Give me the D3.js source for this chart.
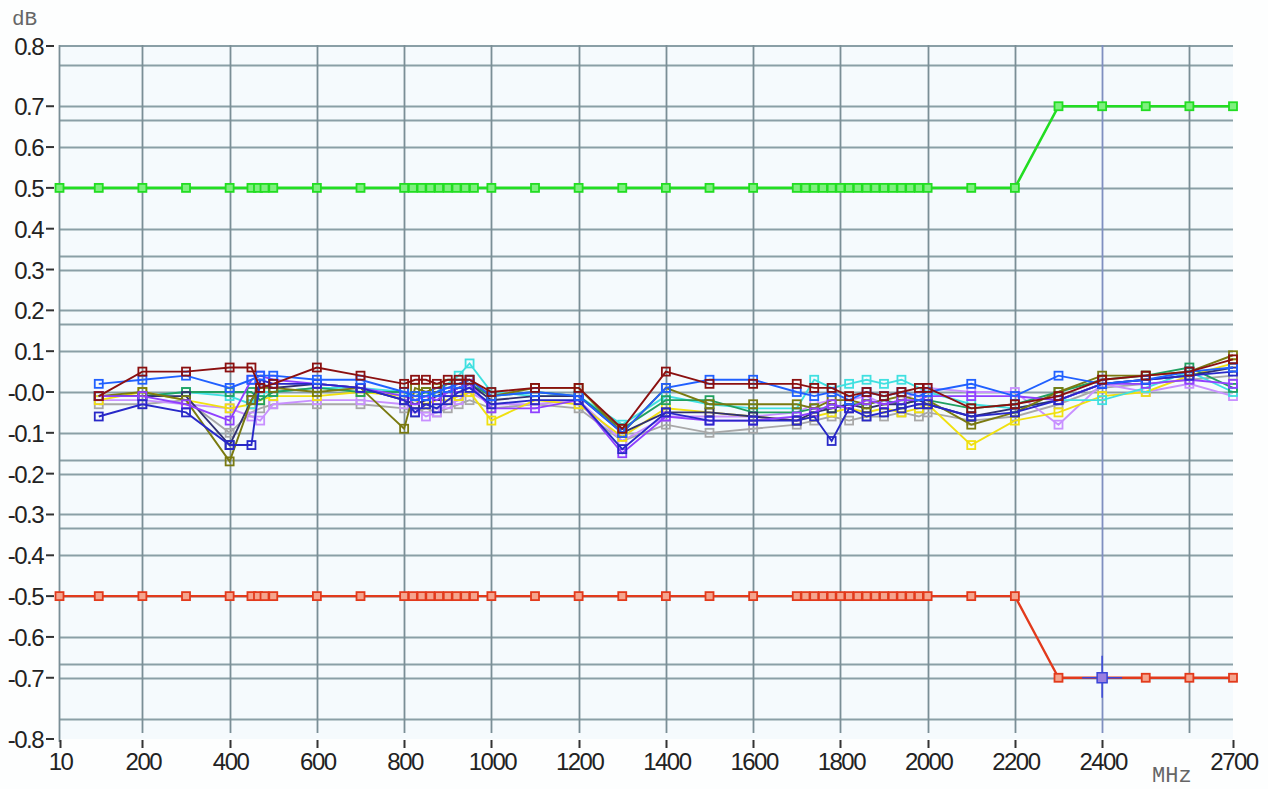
<!DOCTYPE html>
<html>
<head>
<meta charset="utf-8">
<script src="https://cdn.jsdelivr.net/npm/d3@7"></script>
<style>
  body { margin: 0; background: #fdfefe; }
  svg { display: block; }
</style>
</head>
<body>
<script>
// frequencies of the measured points (MHz)
const dataFreq = [100, 200, 300, 400, 450, 470, 500, 600, 700, 800, 825, 850, 875, 900, 925, 950,
  1000, 1100, 1200, 1300, 1400, 1500, 1600, 1700, 1740, 1780, 1820, 1860, 1900, 1940, 1980, 2000,
  2100, 2200, 2300, 2400, 2500, 2600, 2700]

// measured traces (dB)
const maroon = [-0.01, 0.05, 0.05, 0.06, 0.06, 0.01, 0.02, 0.06, 0.04, 0.02, 0.03, 0.03, 0.02, 0.03, 0.03, 0.03,
  0.00, 0.01, 0.01, -0.09, 0.05, 0.02, 0.02, 0.02, 0.01, 0.01, -0.01, 0.00, -0.01, 0.00, 0.01, 0.01,
  -0.04, -0.03, -0.01, 0.03, 0.04, 0.05, 0.08]
const blue = [0.02, 0.03, 0.04, 0.01, 0.03, 0.04, 0.04, 0.03, 0.03, 0.00, -0.01, -0.01, 0.00, 0.01, 0.02, 0.03,
  -0.01, 0.00, -0.01, -0.10, 0.01, 0.03, 0.03, 0.00, -0.01, 0.00, -0.02, 0.00, -0.01, 0.00, -0.01, 0.00,
  0.02, -0.01, 0.04, 0.02, 0.03, 0.05, 0.06]
const darkBlue = [-0.06, -0.03, -0.05, -0.13, -0.13, 0.03, 0.02, 0.02, 0.01, -0.02, -0.05, -0.03, -0.04, -0.02, 0.00, 0.01,
  -0.03, -0.02, -0.02, -0.14, -0.05, -0.07, -0.07, -0.07, -0.06, -0.12, -0.04, -0.06, -0.05, -0.04, -0.03, -0.03,
  -0.06, -0.05, -0.02, 0.02, 0.03, 0.04, 0.05]
const olive = [-0.01, 0.00, -0.02, -0.17, -0.02, 0.01, 0.01, 0.00, 0.01, -0.09, 0.01, 0.00, 0.01, 0.02, 0.02, 0.03,
  -0.01, 0.01, 0.01, -0.10, 0.01, -0.03, -0.03, -0.03, -0.04, -0.02, -0.02, -0.03, -0.02, -0.01, -0.02, -0.02,
  -0.08, -0.05, 0.00, 0.04, 0.04, 0.05, 0.09]
const green = [-0.01, -0.01, 0.00, 0.00, 0.00, -0.02, 0.00, 0.01, 0.00, 0.00, -0.01, 0.00, -0.01, 0.00, 0.01, 0.02,
  -0.01, 0.00, -0.01, -0.09, -0.02, -0.02, -0.05, -0.05, -0.04, -0.04, -0.03, -0.03, -0.02, -0.03, -0.02, -0.02,
  -0.04, -0.03, 0.00, 0.03, 0.04, 0.06, 0.01]
const violet = [-0.01, -0.01, -0.03, -0.07, 0.03, 0.04, 0.03, 0.02, 0.01, -0.01, -0.02, -0.01, -0.02, 0.00, 0.01, 0.02,
  -0.04, -0.04, -0.02, -0.15, -0.06, -0.07, -0.07, -0.06, -0.05, -0.03, -0.04, -0.02, -0.03, -0.02, -0.02, -0.01,
  -0.01, -0.01, -0.02, 0.02, 0.02, 0.03, 0.02]
const lavender = [-0.02, -0.02, -0.03, -0.04, -0.06, -0.07, -0.03, -0.02, -0.02, -0.03, -0.04, -0.06, -0.05, -0.03, -0.02, 0.00,
  -0.03, -0.03, -0.02, -0.12, -0.06, -0.06, -0.06, -0.05, -0.03, -0.02, -0.02, -0.01, -0.03, -0.02, 0.00, 0.01,
  0.00, 0.00, -0.08, 0.02, 0.00, 0.02, -0.01]
const yellow = [-0.02, 0.00, -0.02, -0.04, -0.03, -0.02, -0.01, -0.01, 0.00, -0.01, -0.02, -0.03, -0.02, -0.02, -0.01, 0.00,
  -0.07, -0.02, -0.03, -0.11, -0.04, -0.05, -0.06, -0.07, -0.06, -0.05, -0.04, -0.05, -0.04, -0.05, -0.04, -0.03,
  -0.13, -0.07, -0.05, -0.01, 0.00, 0.04, 0.07]
const cyan = [-0.01, -0.01, 0.00, -0.01, -0.03, 0.00, 0.00, 0.01, 0.01, 0.00, -0.02, -0.01, 0.00, 0.02, 0.04, 0.07,
  0.00, -0.01, -0.01, -0.08, -0.01, -0.03, -0.04, -0.04, 0.03, 0.01, 0.02, 0.03, 0.02, 0.03, 0.01, 0.00,
  -0.03, -0.04, -0.02, -0.02, 0.01, 0.05, 0.00]
const grey = [-0.03, -0.03, -0.02, -0.10, -0.05, -0.04, -0.03, -0.03, -0.03, -0.04, -0.05, -0.04, -0.05, -0.04, -0.03, -0.02,
  -0.04, -0.03, -0.04, -0.12, -0.08, -0.10, -0.09, -0.08, -0.07, -0.06, -0.07, -0.06, -0.06, -0.05, -0.06, -0.05,
  -0.07, -0.06, -0.03, 0.01, 0.02, 0.03, 0.04]
const navy = [-0.01, -0.01, -0.01, -0.13, -0.02, 0.02, 0.01, 0.02, 0.01, -0.02, -0.03, -0.02, -0.01, 0.00, 0.01, 0.02,
  -0.02, -0.01, -0.01, -0.10, -0.05, -0.05, -0.06, -0.07, -0.05, -0.04, -0.03, -0.04, -0.03, -0.03, -0.02, -0.03,
  -0.06, -0.04, -0.02, 0.02, 0.03, 0.04, 0.06]

// limit lines
const limitFreq = [10, 100, 200, 300, 400, 450, 465, 480, 500, 600, 700, 800, 820, 840, 860, 880, 900, 920, 940, 960,
  1000, 1100, 1200, 1300, 1400, 1500, 1600, 1700, 1720, 1740, 1760, 1780, 1800, 1820, 1840, 1860, 1880, 1900,
  1920, 1940, 1960, 1980, 2000, 2100, 2200, 2300, 2400, 2500, 2600, 2700]
const upperLimit = [0.5, 0.5, 0.5, 0.5, 0.5, 0.5, 0.5, 0.5, 0.5, 0.5, 0.5, 0.5, 0.5, 0.5, 0.5, 0.5, 0.5, 0.5, 0.5, 0.5,
  0.5, 0.5, 0.5, 0.5, 0.5, 0.5, 0.5, 0.5, 0.5, 0.5, 0.5, 0.5, 0.5, 0.5, 0.5, 0.5, 0.5, 0.5,
  0.5, 0.5, 0.5, 0.5, 0.5, 0.5, 0.5, 0.7, 0.7, 0.7, 0.7, 0.7]
const lowerLimit = [-0.5, -0.5, -0.5, -0.5, -0.5, -0.5, -0.5, -0.5, -0.5, -0.5, -0.5, -0.5, -0.5, -0.5, -0.5, -0.5, -0.5, -0.5, -0.5, -0.5,
  -0.5, -0.5, -0.5, -0.5, -0.5, -0.5, -0.5, -0.5, -0.5, -0.5, -0.5, -0.5, -0.5, -0.5, -0.5, -0.5, -0.5, -0.5,
  -0.5, -0.5, -0.5, -0.5, -0.5, -0.5, -0.5, -0.7, -0.7, -0.7, -0.7, -0.7]

// cursor marker
const cursorFreq = 2400
const cursorValue = -0.7

// axis ticks
const xTicks = [10, 200, 400, 600, 800, 1000, 1200, 1400, 1600, 1800, 2000, 2200, 2400, 2700]
const xGrid = [200, 400, 600, 800, 1000, 1200, 1400, 1600, 1800, 2000, 2200, 2400, 2600]
const yTicks = [0.8, 0.7, 0.6, 0.5, 0.4, 0.3, 0.2, 0.1, 0, -0.1, -0.2, -0.3, -0.4, -0.5, -0.6, -0.7, -0.8]
const yTickLabels = ['0.8', '0.7', '0.6', '0.5', '0.4', '0.3', '0.2', '0.1', '-0.0', '-0.1', '-0.2', '-0.3', '-0.4', '-0.5', '-0.6', '-0.7', '-0.8']
const yGridExtra = [2 / 3, 1 / 3, 1 / 6, -1 / 6, -1 / 3, -2 / 3]

const series = [
  { values: grey, color: '#a8a8a8' },
  { values: lavender, color: '#c890ff' },
  { values: yellow, color: '#f0e010' },
  { values: cyan, color: '#40e0e0' },
  { values: green, color: '#20a060' },
  { values: navy, color: '#303070' },
  { values: olive, color: '#7a7a10' },
  { values: violet, color: '#9040ff' },
  { values: darkBlue, color: '#2828c8' },
  { values: blue, color: '#2060ff' },
  { values: maroon, color: '#8b1010' }
]

const w = 1268
const h = 789
const plotTop = 45
const plotBottom = 739

const xScale = d3.scaleLinear()
    .domain([10, 2700])
    .range([59.5, 1233])

const yScale = d3.scaleLinear()
    .domain([-0.85, 0.85])
    .range([plotBottom, plotTop])

const svg = d3.select('body')
    .append('svg')
    .attr('width', w)
    .attr('height', h)

// plot background
svg.append('rect')
    .attr('x', xScale(10))
    .attr('y', plotTop)
    .attr('width', xScale(2700) - xScale(10))
    .attr('height', plotBottom - plotTop)
    .attr('fill', '#f5fafd')

// horizontal grid
const gridY = yTicks.concat(yGridExtra)
svg.append('g')
    .selectAll('line')
    .data(gridY)
    .enter()
    .append('line')
    .attr('x1', xScale(10))
    .attr('x2', xScale(2700))
    .attr('y1', d => Math.round(yScale(d)) + 0.5)
    .attr('y2', d => Math.round(yScale(d)) + 0.5)
    .attr('stroke', '#8a9fa6')
    .attr('stroke-width', 1.8)

// top frame line
svg.append('line')
    .attr('x1', xScale(10))
    .attr('x2', xScale(2700))
    .attr('y1', plotTop + 1)
    .attr('y2', plotTop + 1)
    .attr('stroke', '#8a9fa6')
    .attr('stroke-width', 1.8)

// vertical grid
svg.append('g')
    .selectAll('line')
    .data(xGrid)
    .enter()
    .append('line')
    .attr('x1', d => Math.round(xScale(d)) + 0.5)
    .attr('x2', d => Math.round(xScale(d)) + 0.5)
    .attr('y1', plotTop)
    .attr('y2', plotBottom - 6)
    .attr('stroke', d => d === cursorFreq ? '#7f8fc0' : '#7a8e96')
    .attr('stroke-width', 1.8)

// left axis line
svg.append('line')
    .attr('x1', xScale(10))
    .attr('x2', xScale(10))
    .attr('y1', plotTop)
    .attr('y2', plotBottom + 3)
    .attr('stroke', '#7a8e96')
    .attr('stroke-width', 1.8)

// y ticks: outer labels sit on the plot edges
const yPos = d => d === 0.8 ? plotTop + 1 : d === -0.8 ? plotBottom : yScale(d)
const yAxis = svg.append('g')
yAxis.selectAll('line')
    .data(yTicks)
    .enter()
    .append('line')
    .attr('x1', 46)
    .attr('x2', 54)
    .attr('y1', d => yPos(d))
    .attr('y2', d => yPos(d))
    .attr('stroke', '#333')
    .attr('stroke-width', 2)
yAxis.selectAll('text')
    .data(yTicks)
    .enter()
    .append('text')
    .attr('x', 43)
    .attr('y', d => yPos(d) + 9)
    .attr('text-anchor', 'end')
    .attr('font-family', 'Liberation Sans, Arial, sans-serif')
    .attr('font-size', 24)
    .attr('letter-spacing', -1.5)
    .attr('fill', '#222')
    .text((d, i) => yTickLabels[i])

// x ticks
const xAxis = svg.append('g')
xAxis.selectAll('line')
    .data(xTicks)
    .enter()
    .append('line')
    .attr('x1', d => Math.round(xScale(d)) + 0.5)
    .attr('x2', d => Math.round(xScale(d)) + 0.5)
    .attr('y1', plotBottom + 1)
    .attr('y2', plotBottom + 9)
    .attr('stroke', '#333')
    .attr('stroke-width', 2)
xAxis.selectAll('text')
    .data(xTicks)
    .enter()
    .append('text')
    .attr('x', d => xScale(d) + 1)
    .attr('y', plotBottom + 31)
    .attr('text-anchor', 'middle')
    .attr('font-family', 'Liberation Sans, Arial, sans-serif')
    .attr('font-size', 24)
    .attr('letter-spacing', -1.5)
    .attr('fill', '#222')
    .text(d => d)

// unit labels
svg.append('text')
    .attr('x', 12)
    .attr('y', 25)
    .attr('font-family', 'Liberation Mono, Courier New, monospace')
    .attr('font-size', 21)
    .attr('fill', '#666')
    .text('dB')

svg.append('text')
    .attr('x', 1152)
    .attr('y', 782)
    .attr('font-family', 'Liberation Mono, Courier New, monospace')
    .attr('font-size', 22)
    .attr('fill', '#666')
    .text('MHz')

const line = d3.line()
    .x(d => xScale(d[0]))
    .y(d => yScale(d[1]))

// measured traces
series.forEach(s => {
    const pts = dataFreq.map((f, i) => [f, s.values[i]])
    const g = svg.append('g')
    g.append('path')
        .datum(pts)
        .attr('d', line)
        .attr('fill', 'none')
        .attr('stroke', s.color)
        .attr('stroke-width', 1.9)
    g.selectAll('rect')
        .data(pts)
        .enter()
        .append('rect')
        .attr('x', d => xScale(d[0]) - 4)
        .attr('y', d => yScale(d[1]) - 4)
        .attr('width', 8)
        .attr('height', 8)
        .attr('fill', 'none')
        .attr('stroke', s.color)
        .attr('stroke-width', 1.8)
})

// limit lines
const limits = [
    { values: upperLimit, color: '#22dd22', fill: '#7ef07e', width: 2.6 },
    { values: lowerLimit, color: '#e23a1c', fill: '#f5a58e', width: 2.3 }
]
limits.forEach(l => {
    const pts = limitFreq.map((f, i) => [f, l.values[i]])
    const g = svg.append('g')
    g.append('path')
        .datum(pts)
        .attr('d', line)
        .attr('fill', 'none')
        .attr('stroke', l.color)
        .attr('stroke-width', l.width)
    g.selectAll('rect')
        .data(pts)
        .enter()
        .append('rect')
        .attr('x', d => xScale(d[0]) - 4)
        .attr('y', d => yScale(d[1]) - 4)
        .attr('width', 8)
        .attr('height', 8)
        .attr('fill', l.fill)
        .attr('stroke', l.color)
        .attr('stroke-width', 1.8)
})

// cursor cross
const cx = xScale(cursorFreq)
const cy = yScale(cursorValue)
const cursor = svg.append('g')
cursor.append('line')
    .attr('x1', cx).attr('x2', cx)
    .attr('y1', cy - 22).attr('y2', cy + 20)
    .attr('stroke', '#3a46d8').attr('stroke-width', 1.5)
cursor.append('line')
    .attr('x1', cx - 20).attr('x2', cx + 20)
    .attr('y1', cy).attr('y2', cy)
    .attr('stroke', '#3a46d8').attr('stroke-width', 1.5)
cursor.append('rect')
    .attr('x', cx - 5).attr('y', cy - 5)
    .attr('width', 10).attr('height', 10)
    .attr('fill', '#9a80e0')
    .attr('stroke', '#3a46d8')
    .attr('stroke-width', 1.5)
</script>
</body>
</html>
